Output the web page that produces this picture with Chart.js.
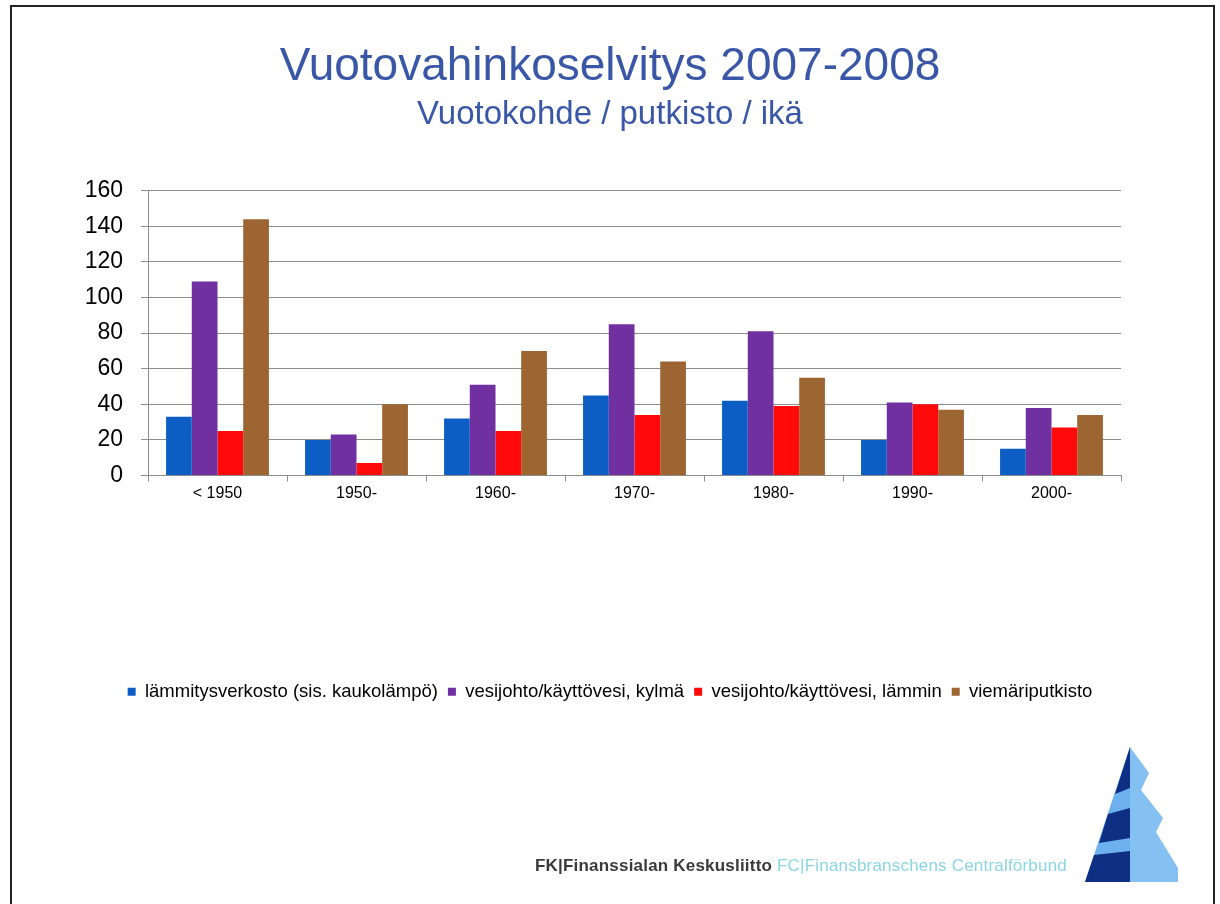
<!DOCTYPE html>
<html lang="fi">
<head>
<meta charset="utf-8">
<title>Vuotovahinkoselvitys 2007-2008</title>
<script src="https://cdn.jsdelivr.net/npm/chart.js@4"></script>
<style>
    html, body { margin: 0; padding: 0; background: #fff; }
    #page { position: relative; width: 1220px; height: 904px; overflow: hidden; }
    #frame {
        position: absolute; left: 10px; top: 5px; width: 1205px; height: 910px;
        border: 2px solid #222; box-sizing: border-box;
    }
    #chart { position: absolute; left: 0; top: 0; }
    #footer {
        position: absolute; left: 535px; top: 856px; white-space: nowrap;
        font-family: "Liberation Sans", Arial, sans-serif; font-size: 17px;
        letter-spacing: 0.2px;
    }
    #footer .fk { color: #3a3a3a; font-weight: bold; }
    #footer .fc { color: #8ad6e4; }
    #logo { position: absolute; left: 0; top: 0; }
</style>
</head>
<body>
<div id="page">
    <canvas id="chart" width="1220" height="904"></canvas>
    <div id="frame"></div>
    <div id="footer"><span class="fk">FK|Finanssialan Keskusliitto</span> <span class="fc">FC|Finansbranschens Centralförbund</span></div>
    <svg id="logo" width="1220" height="904">
        <polygon points="1130,747 1085,882 1130,882" fill="#6cb0ee"/>
        <polygon points="1130,747 1149,773 1141,790 1163,818 1156,832 1178,868 1178,882 1130,882" fill="#84c0f2"/>
        <polygon points="1130,747 1130,788 1115,794" fill="#0f2f84"/>
        <polygon points="1130,808 1130,838 1099,843 1108,814" fill="#0f2f84"/>
        <polygon points="1130,851 1130,882 1085,882 1094,855" fill="#0f2f84"/>
    </svg>
</div>
<script>
document.addEventListener('DOMContentLoaded', () => {
    // Vuotokohteet rakennusvuoden mukaan
    const ageGroups = ['< 1950', '1950-', '1960-', '1970-', '1980-', '1990-', '2000-'];
    const heatingNetwork = [33, 20, 32, 45, 42, 20, 15];
    const coldWater = [109, 23, 51, 85, 81, 41, 38];
    const hotWater = [25, 7, 25, 34, 39, 40, 27];
    const sewerPipes = [144, 40, 70, 64, 55, 37, 34];
    const seriesNames = [
        'lämmitysverkosto (sis. kaukolämpö)',
        'vesijohto/käyttövesi, kylmä',
        'vesijohto/käyttövesi, lämmin',
        'viemäriputkisto'
    ];
    const seriesColors = ['#0c5ec4', '#7030a0', '#ff0a0a', '#9c6532'];

    const font = 'Liberation Sans, Arial, sans-serif';
    const gridColor = '#8c8c8c';

    const ctx = document.getElementById('chart').getContext('2d');
    new Chart(ctx, {
        type: 'bar',
        data: {
            labels: ageGroups,
            datasets: [heatingNetwork, coldWater, hotWater, sewerPipes].map((values, i) => ({
                label: seriesNames[i],
                data: values,
                backgroundColor: seriesColors[i],
                borderWidth: 0,
                barPercentage: 1,
                categoryPercentage: 0.74
            }))
        },
        options: {
            responsive: false,
            animation: false,
            layout: { padding: { left: 0, right: 0, top: 0, bottom: 193 } },
            scales: {
                x: {
                    grid: { drawOnChartArea: false, color: gridColor, tickLength: 6 },
                    border: { color: gridColor },
                    ticks: { color: '#000', font: { family: font, size: 16 }, padding: 2 },
                    afterFit: scale => { scale.height = 197; }
                },
                y: {
                    min: 0,
                    max: 160,
                    grid: { color: gridColor, tickLength: 7 },
                    border: { color: gridColor },
                    ticks: { stepSize: 20, color: '#000', font: { family: font, size: 23 }, padding: 18 },
                    afterFit: scale => { scale.width = 148; }
                },
                // empty right-hand margin so titles and legend stay centred on the page
                spacer: {
                    position: 'right',
                    grid: { display: false },
                    border: { display: false },
                    ticks: { display: false },
                    afterFit: scale => { scale.width = 99; }
                }
            },
            plugins: {
                tooltip: { enabled: false },
                title: {
                    display: true,
                    text: 'Vuotovahinkoselvitys 2007-2008',
                    color: '#3a57a7',
                    font: { family: font, size: 46, weight: 'normal' },
                    padding: { top: 40, bottom: 0 }
                },
                subtitle: {
                    display: true,
                    text: 'Vuotokohde / putkisto / ikä',
                    color: '#3a57a7',
                    font: { family: font, size: 33, weight: 'normal' },
                    padding: { top: 0, bottom: 56 }
                },
                legend: {
                    position: 'bottom',
                    labels: {
                        color: '#000',
                        font: { family: font, size: 18.5 },
                        boxWidth: 8,
                        boxHeight: 8,
                        padding: 10
                    }
                }
            }
        }
    });
});
</script>
</body>
</html>
